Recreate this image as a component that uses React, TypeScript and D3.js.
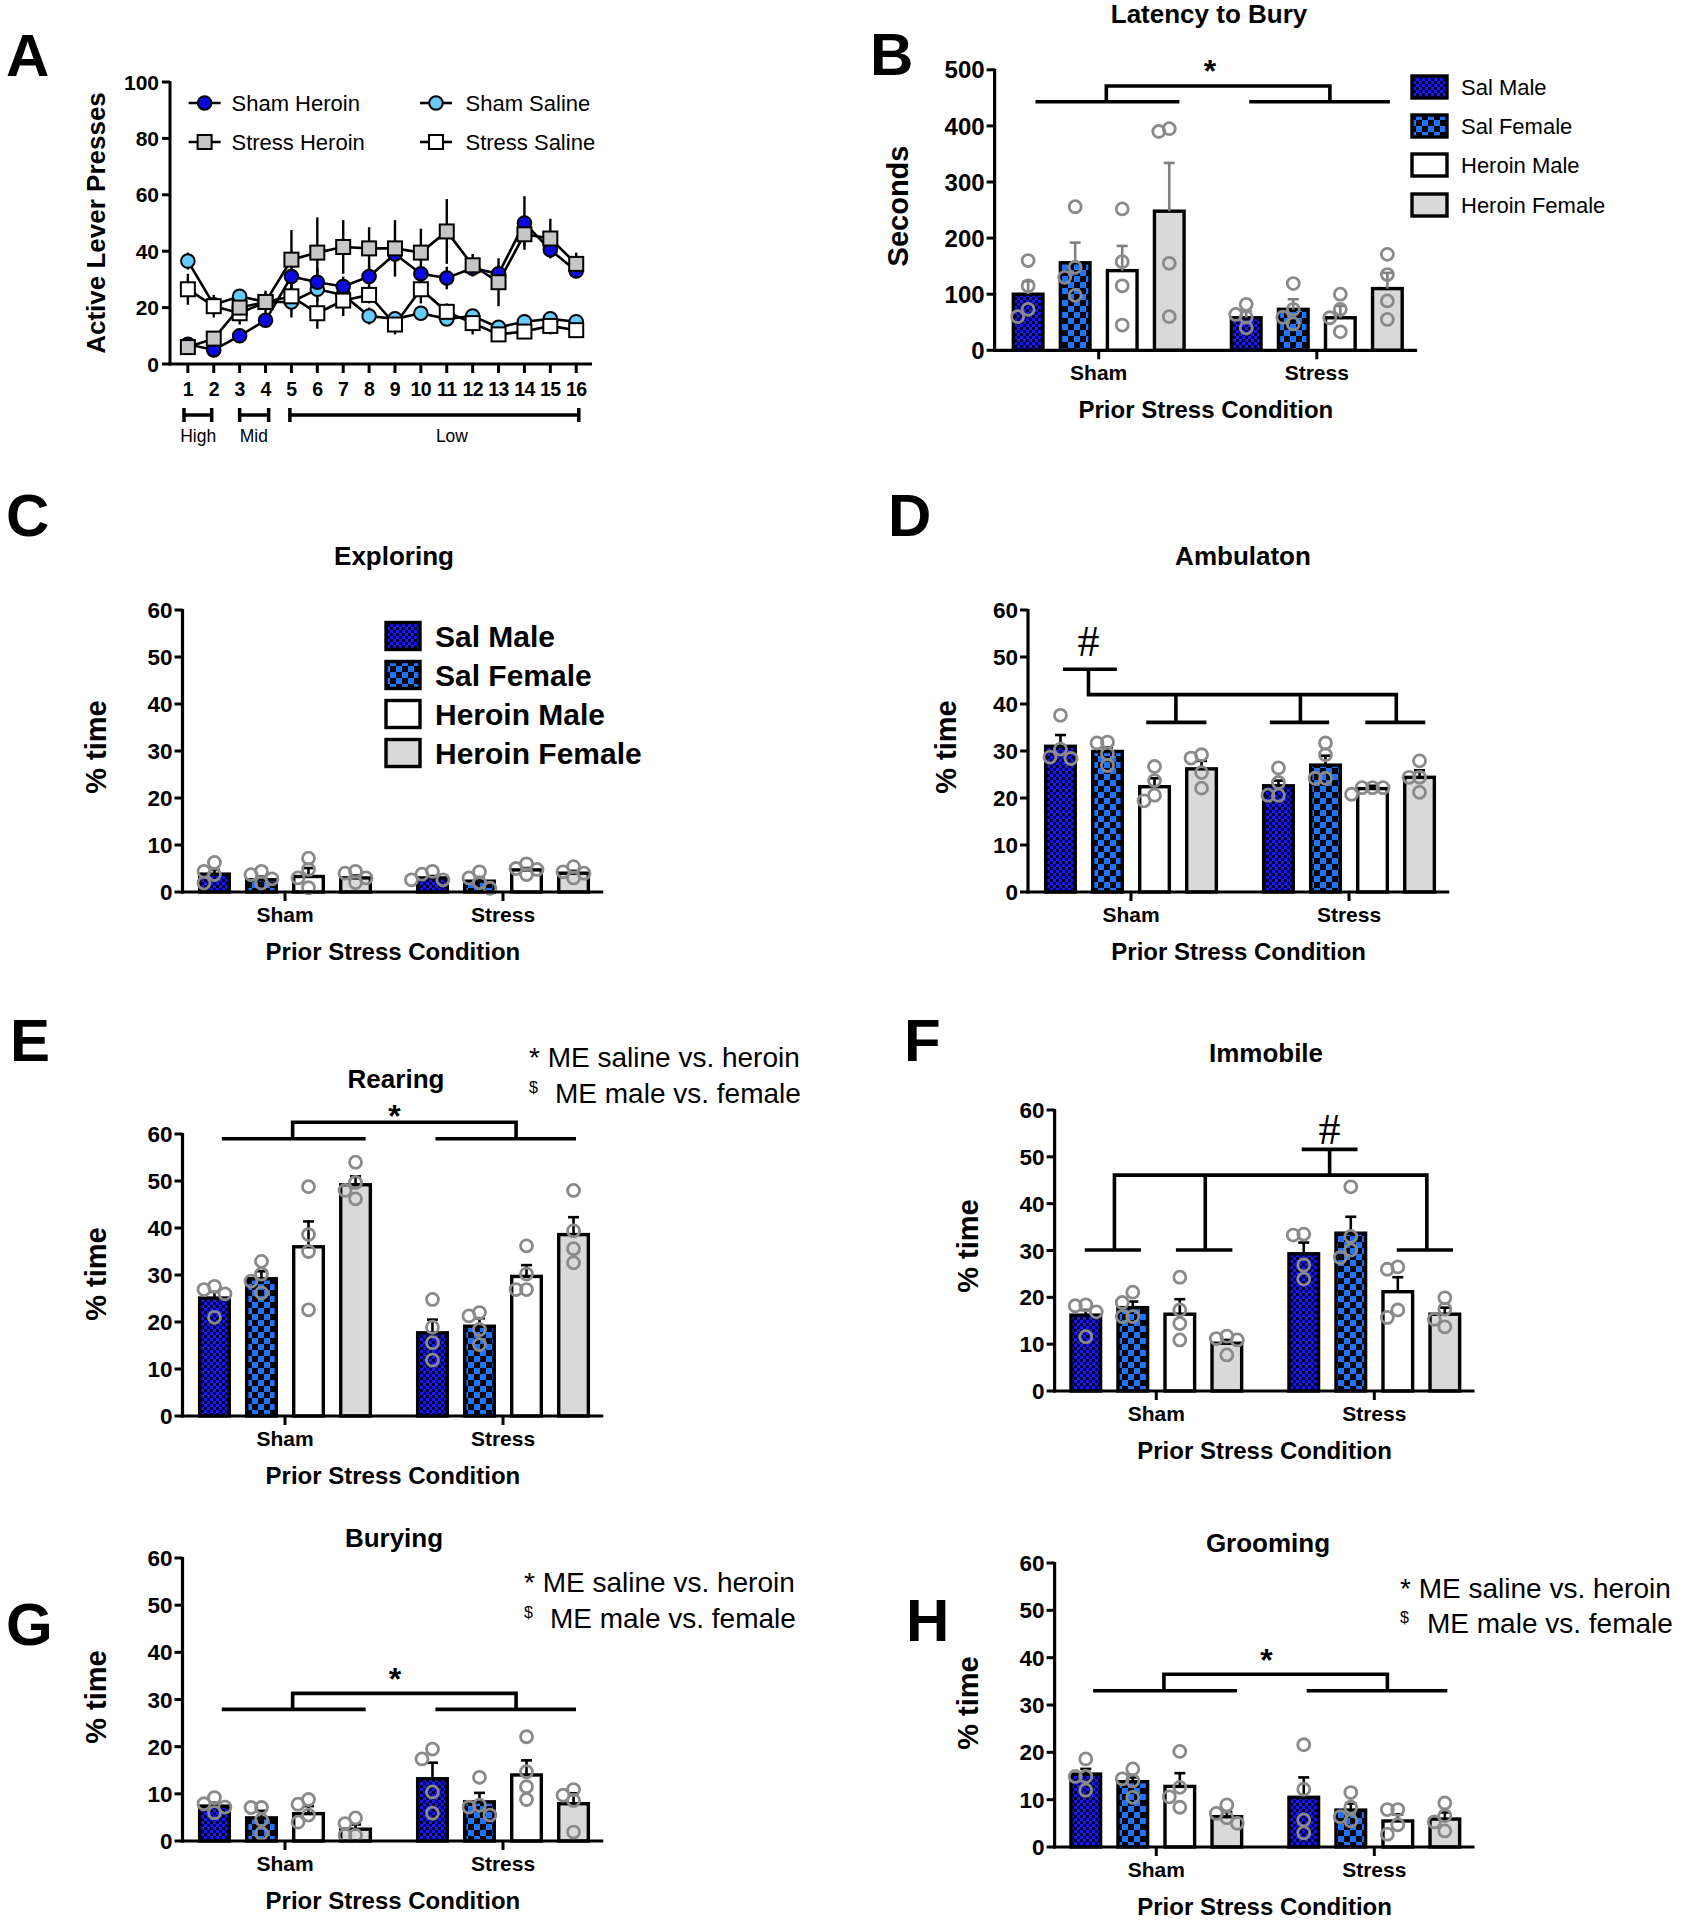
import React from "react";
import * as d3 from "d3";

const W = 1683;
const H = 1920;
const FONT = "'Liberation Sans', Arial, Helvetica, sans-serif";

// ---------- Panel A data ----------
const days = [1, 2, 3, 4, 5, 6, 7, 8, 9, 10, 11, 12, 13, 14, 15, 16];
const leverTicks = [0, 20, 40, 60, 80, 100];
const shamHeroin = [7, 5, 10, 15.5, 31, 29, 27.5, 31, 39, 32, 30.5, 34, 32, 50, 40.5, 33];
const shamHeroinSem = [1, 1, 1.5, 2, 3, 5, 3.5, 4, 3, 3, 4, 2, 3, 9.5, 3, 2];
const stressHeroin = [6, 9, 20, 22, 37, 39.5, 41.5, 41, 41, 39.5, 47, 35, 29, 46, 44.5, 35.5];
const stressHeroinSem = [1, 2, 3, 3, 10.5, 12.5, 9.5, 7.5, 10, 8.5, 11.5, 4, 8.5, 4, 7, 4];
const shamSaline = [36.5, 21, 24, 22, 22, 26.5, 24.5, 17, 16, 18, 16, 17, 13, 15, 16, 15];
const shamSalineSem = [3, 2, 2, 2, 3, 4, 2.5, 3, 2, 2, 1.5, 1.5, 1.5, 1.5, 1.5, 1.5];
const stressSaline = [26.5, 20.5, 18, 22, 24, 18, 22.5, 24.5, 14, 26.5, 18.5, 14.5, 10.5, 11.5, 13.5, 12];
const stressSalineSem = [5.5, 4, 4, 4, 7.5, 5.5, 5.5, 3, 3.5, 5, 3, 4, 2, 2.5, 3, 2.5];

// ---------- Bar panel data ----------
const groups = ["Sham", "Stress"];
const subgroups = ["Sal Male", "Sal Female", "Heroin Male", "Heroin Female"];
const pctTicks = [0, 10, 20, 30, 40, 50, 60];
const secTicks = [0, 100, 200, 300, 400, 500];

const latencyMean = [100, 156, 142, 248, 58, 73, 58, 110];
const latencySem = [23, 36, 44, 86, 12, 18, 21, 28];
const latencyPts = [[160, 115, 60, 73], [256, 148, 98, 130], [252, 158, 115, 45], [390, 395, 155, 60], [82, 64, 40, 59], [119, 73, 47, 59], [100, 73, 58, 33], [171, 135, 88, 55]];

const exploreMean = [3.8, 2.6, 3.3, 3.0, 3.0, 2.3, 4.7, 4.0];
const exploreSem = [0.9, 0.7, 1.8, 0.5, 0.4, 0.7, 0.4, 0.5];
const explorePts = [[1.9, 4.4, 6.3, 3.7], [1.9, 4.4, 2.8, 3.7], [7.2, 4.8, 3.0, 0.9], [4.4, 4.0, 3.0, 2.0], [4.4, 3.8, 2.6, 2.6], [4.3, 3.0, 2.0, 0.8], [6.0, 5.0, 4.8, 3.7], [5.4, 4.3, 4.0, 3.0]];

const ambulMean = [31, 29.9, 22.4, 26.2, 22.6, 27, 22, 24.4];
const ambulSem = [2.4, 0.9, 1.8, 1.7, 1.1, 2, 0.6, 1.5];
const ambulPts = [[37.6, 28.7, 28.4, 30.4], [31.7, 31.9, 29.4, 26.9], [26.7, 23.7, 19.4, 20.6], [28.5, 29.2, 25.4, 22.1], [26.4, 23.3, 20.6, 20.6], [31.7, 29.2, 24.2, 24.2], [20.8, 22.2, 22.2, 22.2], [27.9, 24.4, 24.4, 21.2]];

const rearMean = [25.1, 29.2, 36, 49.2, 17.7, 19.1, 29.7, 38.6];
const rearSem = [1.3, 1.6, 5.4, 1.8, 2.8, 1.7, 2.4, 3.7];
const rearPts = [[27.6, 26, 26.9, 21], [32.9, 30.2, 28.7, 26.2], [48.8, 38.6, 35, 22.6], [54, 49.7, 48, 46.2], [24.8, 18.9, 15.6, 11.9], [22, 21.3, 18.4, 15.2], [36.2, 30.2, 26.9, 26.9], [48, 39.4, 35.6, 32.6]];

const immobMean = [16.2, 17.8, 16.4, 10.2, 29.3, 33.7, 21.2, 16.4];
const immobSem = [1.1, 1.3, 3.2, 0.7, 2.4, 3.5, 3.1, 1.4];
const immobPts = [[18.4, 16.9, 18.2, 11.6], [18.9, 21.1, 15.9, 15.9], [24.3, 17.3, 14.4, 10.9], [11.7, 10.9, 11.2, 7.7], [33.3, 33.5, 26.9, 23.9], [43.6, 33, 28.5, 30.1], [26, 26.5, 15.7, 17.3], [19.9, 17.5, 13.7, 15.3]];

const buryMean = [7.4, 4.9, 5.8, 2.5, 13.2, 8.3, 14, 7.9];
const burySem = [0.7, 1.5, 1.6, 1.0, 3.4, 1.9, 3.1, 2.2];
const buryPts = [[9.2, 7.9, 7.2, 6], [7.1, 7.1, 4.5, 1.6], [7.8, 8.8, 5.5, 4], [3.7, 4.9, 1.2, 1.2], [17.4, 19.5, 10.4, 5.9], [13.5, 5.5, 7.6, 7.2], [22.1, 14.7, 11.5, 8.8], [10.9, 9.7, 8.6, 1.9]];

const groomMean = [15.4, 13.8, 12.8, 6.4, 10.5, 7.8, 5.5, 5.9];
const groomSem = [1.1, 0.9, 2.8, 1.0, 4.2, 1.4, 1.4, 1.4];
const groomPts = [[18.6, 14.9, 14.9, 12], [16.5, 14.4, 14, 10.5], [20.2, 12.6, 10.6, 8.4], [8.9, 7.1, 6.2, 5], [21.6, 12.2, 5.7, 3], [11.5, 8.4, 6.4, 5.5], [7.9, 7.9, 4.7, 2.7], [9.3, 6.6, 5.3, 3.4]];

const fills = ["url(#patSalMale)", "url(#patSalFemale)", "#ffffff", "#d9d9d9"];

// bracket geometry in (u, value) where u=0 is Sham, u=1 is Stress
const mainEffect = (lo: number, hi: number) => [
  [[-0.29, lo], [0.37, lo]],
  [[0.69, lo], [1.335, lo]],
  [[0.035, lo], [0.035, hi], [1.06, hi], [1.06, lo]],
];
const ambulBr = [
  [[-0.312, 47.4], [-0.065, 47.4]],
  [[-0.195, 47.4], [-0.195, 42], [1.217, 42], [1.217, 36.1]],
  [[0.206, 42], [0.206, 36.1]],
  [[0.777, 42], [0.777, 36.1]],
  [[0.07, 36.1], [0.346, 36.1]],
  [[0.637, 36.1], [0.909, 36.1]],
  [[1.075, 36.1], [1.35, 36.1]],
];
const immobBr = [
  [[0.667, 51.6], [0.923, 51.6]],
  [[0.795, 51.6], [0.795, 46.1]],
  [[-0.192, 30.1], [-0.192, 46.1], [1.241, 46.1], [1.241, 30.1]],
  [[0.2246, 46.1], [0.2246, 30.1]],
  [[-0.328, 30.1], [-0.0705, 30.1]],
  [[0.09, 30.1], [0.349, 30.1]],
  [[1.103, 30.1], [1.361, 30.1]],
];

const panels = [
  { key: "B", ax: 994.6, sham: 1098.7, stress: 1316.8, yTop: 69.8, y0: 350.3, max: 500, ticks: secTicks, tickFont: 24,
    mean: latencyMean, sem: latencySem, pts: latencyPts, title: "Latency to Bury", titleX: 1209, titleY: 23, errColor: "#808080",
    ylabel: "Seconds", ylx: 898, yly: 206, br: mainEffect(443, 471), sym: "*", symU: 0.51, symV: 510 },
  { key: "C", ax: 182.5, sham: 285, stress: 503, yTop: 610, y0: 892, max: 60, ticks: pctTicks, tickFont: 22.5,
    mean: exploreMean, sem: exploreSem, pts: explorePts, title: "Exploring", titleX: 394, titleY: 565, errColor: "#000",
    ylabel: "% time", ylx: 95.5, yly: 747, br: [], sym: "", symU: 0, symV: 0 },
  { key: "D", ax: 1028, sham: 1131, stress: 1349, yTop: 610, y0: 892, max: 60, ticks: pctTicks, tickFont: 22.5,
    mean: ambulMean, sem: ambulSem, pts: ambulPts, title: "Ambulaton", titleX: 1243, titleY: 565, errColor: "#000",
    ylabel: "% time", ylx: 946, yly: 747, br: ambulBr, sym: "#", symU: -0.195, symV: 53.2 },
  { key: "E", ax: 182.5, sham: 285, stress: 503, yTop: 1134, y0: 1416, max: 60, ticks: pctTicks, tickFont: 22.5,
    mean: rearMean, sem: rearSem, pts: rearPts, title: "Rearing", titleX: 396, titleY: 1088, errColor: "#000",
    ylabel: "% time", ylx: 95.5, yly: 1274, br: mainEffect(59, 62.5), sym: "*", symU: 0.502, symV: 65.4 },
  { key: "F", ax: 1054.6, sham: 1156.3, stress: 1374.3, yTop: 1110, y0: 1391, max: 60, ticks: pctTicks, tickFont: 22.5,
    mean: immobMean, sem: immobSem, pts: immobPts, title: "Immobile", titleX: 1266, titleY: 1062, errColor: "#000",
    ylabel: "% time", ylx: 968, yly: 1246, br: immobBr, sym: "#", symU: 0.795, symV: 55.7 },
  { key: "G", ax: 182.5, sham: 285, stress: 503, yTop: 1558, y0: 1841, max: 60, ticks: pctTicks, tickFont: 22.5,
    mean: buryMean, sem: burySem, pts: buryPts, title: "Burying", titleX: 394, titleY: 1547, errColor: "#000",
    ylabel: "% time", ylx: 95.5, yly: 1697, br: mainEffect(27.9, 31.3), sym: "*", symU: 0.505, symV: 35.9 },
  { key: "H", ax: 1054.6, sham: 1156.3, stress: 1374.3, yTop: 1563, y0: 1847, max: 60, ticks: pctTicks, tickFont: 22.5,
    mean: groomMean, sem: groomSem, pts: groomPts, title: "Grooming", titleX: 1268, titleY: 1552, errColor: "#000",
    ylabel: "% time", ylx: 968, yly: 1703, br: mainEffect(33, 36.5), sym: "*", symU: 0.505, symV: 41 },
];

function swarm(vals: number[], cx: number, y: (v: number) => number, sp: number) {
  const order = vals.map((v, i) => ({ v, i, py: y(v) })).sort((a, b) => a.py - b.py);
  const placed: { x: number; y: number }[] = [];
  const out: [number, number][] = new Array(vals.length);
  for (const o of order) {
    const cands = [0, -1, 1, -2, 2, -3, 3];
    let chosen = 0;
    for (const c of cands) {
      const px = cx + c * sp;
      if (placed.every((q) => Math.hypot(q.x - px, q.y - o.py) >= sp)) { chosen = c; break; }
    }
    const px = cx + chosen * sp;
    placed.push({ x: px, y: o.py });
    out[o.i] = [px, o.py];
  }
  return out;
}

function BarPanel({ p }: { p: any }) {
  const D = p.stress - p.sham;
  const y = d3.scaleLinear().domain([0, p.max]).range([p.y0, p.yTop]);
  const gx = d3.scalePoint<string>().domain(groups).range([p.sham, p.stress]);
  const step = 0.2157 * D;
  const sx = d3.scaleBand<string>().domain(subgroups).range([-2 * step, 2 * step]).paddingInner(0.37).paddingOuter(0.185);
  const u = d3.scaleLinear().domain([0, 1]).range([p.sham, p.stress]);
  const axEnd = p.stress + 0.46 * D;
  const bw = sx.bandwidth();
  const items: any[] = [];
  groups.forEach((g, gi) =>
    subgroups.forEach((s, si) => {
      const i = gi * 4 + si;
      const cx = (gx(g) as number) + (sx(s) as number) + bw / 2;
      items.push({ key: g + s, si, cx, mean: p.mean[i], sem: p.sem[i], pts: p.pts[i] });
    })
  );
  const line = d3.line<number[]>().x((d) => u(d[0])).y((d) => y(d[1]));
  const symY = y(p.symV);
  return (
    <g>
      <text x={p.titleX} y={p.titleY} textAnchor="middle" fontFamily={FONT} fontWeight="bold" fontSize={26}>{p.title}</text>
      <text transform={`translate(${p.ylx},${p.yly}) rotate(-90)`} textAnchor="middle" dominantBaseline="central" fontFamily={FONT} fontWeight="bold" fontSize={29}>{p.ylabel}</text>
      {items.map((it) => (
        <rect key={"b" + it.key} x={it.cx - bw / 2} y={y(it.mean)} width={bw} height={p.y0 - y(it.mean)} fill={fills[it.si]} stroke="#000" strokeWidth={3.4} />
      ))}
      {items.map((it) => (
        <g key={"e" + it.key} stroke={p.errColor} strokeWidth={2.6}>
          <line x1={it.cx} x2={it.cx} y1={y(it.mean)} y2={y(it.mean + it.sem)} />
          <line x1={it.cx - 5.5} x2={it.cx + 5.5} y1={y(it.mean + it.sem)} y2={y(it.mean + it.sem)} />
        </g>
      ))}
      {items.map((it) =>
        swarm(it.pts, it.cx, y, 10.5).map((pt, j) => (
          <circle key={"p" + it.key + j} cx={pt[0]} cy={pt[1]} r={6} fill="none" stroke="#8a8a8a" strokeWidth={2.8} />
        ))
      )}
      {/* axes */}
      <line x1={p.ax} x2={p.ax} y1={p.y0 + 1.5} y2={p.yTop - 1} stroke="#000" strokeWidth={3.2} />
      <line x1={p.ax - 1.5} x2={axEnd} y1={p.y0} y2={p.y0} stroke="#000" strokeWidth={3.2} />
      {p.ticks.map((t: number) => (
        <g key={"t" + t}>
          <line x1={p.ax - 8} x2={p.ax} y1={y(t)} y2={y(t)} stroke="#000" strokeWidth={3} />
          <text x={p.ax - 10} y={y(t)} dy="0.36em" textAnchor="end" fontFamily={FONT} fontWeight="bold" fontSize={p.tickFont}>{t}</text>
        </g>
      ))}
      {groups.map((g) => (
        <g key={"g" + g}>
          <line x1={gx(g)} x2={gx(g)} y1={p.y0} y2={p.y0 + 9} stroke="#000" strokeWidth={3} />
          <text x={gx(g)} y={p.y0 + 30} textAnchor="middle" fontFamily={FONT} fontWeight="bold" fontSize={21}>{g}</text>
        </g>
      ))}
      <text x={(p.ax + axEnd) / 2} y={p.y0 + 68} textAnchor="middle" fontFamily={FONT} fontWeight="bold" fontSize={24}>Prior Stress Condition</text>
      {p.br.map((seg: number[][], k: number) => (
        <path key={"br" + k} d={line(seg) as string} fill="none" stroke="#000" strokeWidth={3.6} />
      ))}
      {p.sym === "*" && (
        <text x={u(p.symU)} y={symY + 18} textAnchor="middle" fontFamily={FONT} fontWeight="bold" fontSize={32}>*</text>
      )}
      {p.sym === "#" && (
        <text x={u(p.symU)} y={symY + 14} textAnchor="middle" fontFamily="'Liberation Serif', 'DejaVu Serif', serif" fontSize={44}>#</text>
      )}
    </g>
  );
}

function Marker({ shape, fill, x, y, r }: any) {
  if (shape === "circle") return <circle cx={x} cy={y} r={r} fill={fill} stroke="#000" strokeWidth={2} />;
  return <rect x={x - r} y={y - r} width={2 * r} height={2 * r} fill={fill} stroke="#000" strokeWidth={2} />;
}

function PanelA() {
  const x = d3.scaleLinear().domain([0.31, 16.61]).range([170, 592]);
  const y = d3.scaleLinear().domain([0, 100]).range([364, 82]);
  const series = [
    { name: "Sham Saline", vals: shamSaline, sem: shamSalineSem, shape: "circle", fill: "#66ccff", r: 6.8 },
    { name: "Stress Saline", vals: stressSaline, sem: stressSalineSem, shape: "square", fill: "#ffffff", r: 7 },
    { name: "Sham Heroin", vals: shamHeroin, sem: shamHeroinSem, shape: "circle", fill: "#0a0ae0", r: 6.8 },
    { name: "Stress Heroin", vals: stressHeroin, sem: stressHeroinSem, shape: "square", fill: "#c6c6c6", r: 7 },
  ];
  const line = d3.line<number>().x((_, i) => x(days[i])).y((v) => y(v));
  const legend = [
    { s: series[2], mx: 204.6, tx: 231.5, ly: 103 },
    { s: series[3], mx: 204.6, tx: 231.5, ly: 142 },
    { s: series[0], mx: 436, tx: 465.5, ly: 103 },
    { s: series[1], mx: 436, tx: 465.5, ly: 142 },
  ];
  const ranges = [
    { lab: "High", a: 0.85, b: 1.92, c: 1.4 },
    { lab: "Mid", a: 3.0, b: 4.12, c: 3.55 },
    { lab: "Low", a: 4.94, b: 16.1, c: 11.2 },
  ];
  return (
    <g>
      <text transform={`translate(95.5,223) rotate(-90)`} textAnchor="middle" dominantBaseline="central" fontFamily={FONT} fontWeight="bold" fontSize={26}>Active Lever Presses</text>
      {series.map((s) => (
        <g key={"l" + s.name}>
          <path d={line(s.vals) as string} fill="none" stroke="#000" strokeWidth={2.6} />
          {s.vals.map((v, i) => (
            <line key={i} x1={x(days[i])} x2={x(days[i])} y1={y(v - s.sem[i])} y2={y(v + s.sem[i])} stroke="#000" strokeWidth={2.4} />
          ))}
        </g>
      ))}
      {series.map((s) => (
        <g key={"m" + s.name}>
          {s.vals.map((v, i) => (
            <Marker key={i} shape={s.shape} fill={s.fill} x={x(days[i])} y={y(v)} r={s.r} />
          ))}
        </g>
      ))}
      <line x1={170} x2={170} y1={365.5} y2={81} stroke="#000" strokeWidth={3} />
      <line x1={168.5} x2={592} y1={364} y2={364} stroke="#000" strokeWidth={3} />
      {leverTicks.map((t) => (
        <g key={"yt" + t}>
          <line x1={162} x2={170} y1={y(t)} y2={y(t)} stroke="#000" strokeWidth={3} />
          <text x={159} y={y(t)} dy="0.36em" textAnchor="end" fontFamily={FONT} fontWeight="bold" fontSize={21}>{t}</text>
        </g>
      ))}
      {days.map((d) => (
        <g key={"xt" + d}>
          <line x1={x(d)} x2={x(d)} y1={364} y2={373} stroke="#000" strokeWidth={3} />
          <text x={x(d)} y={396} textAnchor="middle" fontFamily={FONT} fontWeight="bold" fontSize={19.5} letterSpacing={-0.6}>{d}</text>
        </g>
      ))}
      {ranges.map((r) => (
        <g key={r.lab} stroke="#000" strokeWidth={3.5}>
          <line x1={x(r.a)} x2={x(r.b)} y1={415} y2={415} />
          <line x1={x(r.a)} x2={x(r.a)} y1={408} y2={422} />
          <line x1={x(r.b)} x2={x(r.b)} y1={408} y2={422} />
          <text x={x(r.c)} y={442} textAnchor="middle" fontFamily={FONT} fontSize={17.5} stroke="none">{r.lab}</text>
        </g>
      ))}
      {legend.map((l) => (
        <g key={"lg" + l.s.name}>
          <line x1={l.mx - 16} x2={l.mx + 16} y1={l.ly} y2={l.ly} stroke="#000" strokeWidth={2.6} />
          <Marker shape={l.s.shape} fill={l.s.fill} x={l.mx} y={l.ly} r={l.s.r} />
          <text x={l.tx} y={l.ly} dy="0.36em" fontFamily={FONT} fontSize={22}>{l.s.name}</text>
        </g>
      ))}
    </g>
  );
}

function Legend({ x, tx, ys, size, h, w, bold }: any) {
  return (
    <g>
      {subgroups.map((s, i) => (
        <g key={s}>
          <rect x={x} y={ys[i] - h / 2} width={w} height={h} fill={fills[i]} stroke="#000" strokeWidth={3.4} />
          <text x={tx} y={ys[i]} dy="0.36em" fontFamily={FONT} fontWeight={bold ? "bold" : "normal"} fontSize={size}>{s}</text>
        </g>
      ))}
    </g>
  );
}

function Annot({ x, x2, y1, y2 }: any) {
  return (
    <g fontFamily={FONT}>
      <text x={x} y={y1} fontSize={28}>* ME saline vs. heroin</text>
      <text x={x} y={y2 - 10} fontSize={16}>$</text>
      <text x={x2} y={y2} fontSize={28}>ME male vs. female</text>
    </g>
  );
}

const letters = [
  { l: "A", x: 6, y: 76 }, { l: "B", x: 870, y: 75 }, { l: "C", x: 6, y: 536 }, { l: "D", x: 888, y: 536 },
  { l: "E", x: 10, y: 1061 }, { l: "F", x: 904, y: 1061 }, { l: "G", x: 6, y: 1645 }, { l: "H", x: 906, y: 1641 },
];

export default function App() {
  return (
    <svg width={W} height={H} viewBox={`0 0 ${W} ${H}`} style={{ position: "absolute", left: 0, top: 0, display: "block", background: "#fff" }}>
      <defs>
        <pattern id="patSalMale" width={6} height={6} patternUnits="userSpaceOnUse">
          <rect width={6} height={6} fill="#000030" />
          <rect width={3} height={3} fill="#1616ff" />
          <rect x={3} y={3} width={3} height={3} fill="#1616ff" />
        </pattern>
        <pattern id="patSalFemale" width={12} height={12} patternUnits="userSpaceOnUse">
          <rect width={12} height={12} fill="#1f74ff" />
          <rect width={6} height={6} fill="#000" />
          <rect x={6} y={6} width={6} height={6} fill="#000" />
        </pattern>
      </defs>
      <rect width={W} height={H} fill="#fff" />
      {letters.map((l) => (
        <text key={l.l} x={l.x} y={l.y} fontFamily={FONT} fontWeight="bold" fontSize={60}>{l.l}</text>
      ))}
      <PanelA />
      {panels.map((p) => <BarPanel key={p.key} p={p} />)}
      <Legend x={1412} tx={1461} ys={[87, 126, 165, 205]} size={22} h={22} w={35} bold={false} />
      <Legend x={386} tx={435} ys={[636, 675, 714, 753]} size={30} h={27} w={34} bold={true} />
      <Annot x={529} x2={555} y1={1067} y2={1103} />
      <Annot x={524} x2={550} y1={1592} y2={1628} />
      <Annot x={1400} x2={1427} y1={1598} y2={1633} />
    </svg>
  );
}
